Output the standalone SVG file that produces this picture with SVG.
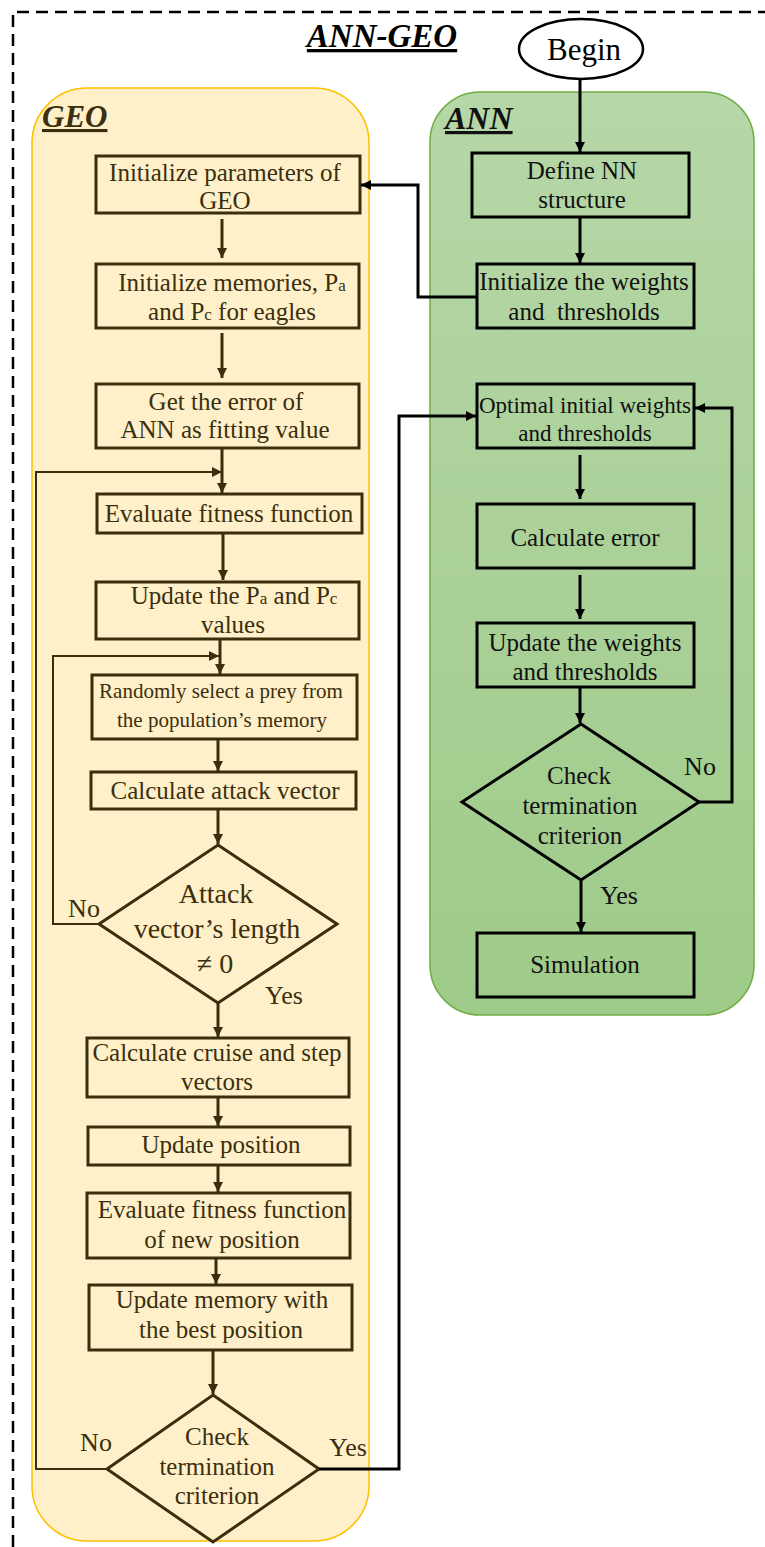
<svg xmlns="http://www.w3.org/2000/svg" width="765" height="1547" viewBox="0 0 765 1547">
<style>
  .t { font-family: "Liberation Serif", "Times New Roman", serif; text-anchor: middle; }
  .g { fill: #3A2F0E; }
  .a { fill: #111; }
  .s25 { font-size: 25px; }
  .s21 { font-size: 21px; }
  .s23 { font-size: 23px; }
  .s28 { font-size: 28px; }
  .lb { font-size: 26px; }
  .gb { fill: none; stroke: #3A2E0C; stroke-width: 3; }
  .ab { fill: none; stroke: #000; stroke-width: 3; }
  .gc { fill: none; stroke: #3A2E0C; stroke-width: 3; }
  .gl { fill: none; stroke: #3A2E0C; stroke-width: 2; }
  .ac { fill: none; stroke: #000; stroke-width: 3; }
  .hd { font-family: "Liberation Serif", "Times New Roman", serif; font-weight: bold; font-style: italic; text-decoration: underline; }
  .sub { font-size: 17px; }
</style>
<defs>
  <marker id="mb" viewBox="0 0 10 10" refX="10" refY="5" markerWidth="11" markerHeight="10" markerUnits="userSpaceOnUse" orient="auto">
    <path d="M0,0 L10,5 L0,10 z" fill="#3A2E0C"/>
  </marker>
  <marker id="mk" viewBox="0 0 10 10" refX="10" refY="5" markerWidth="11" markerHeight="10" markerUnits="userSpaceOnUse" orient="auto">
    <path d="M0,0 L10,5 L0,10 z" fill="#000"/>
  </marker>
  <linearGradient id="gr" x1="0" y1="0" x2="0" y2="1">
    <stop offset="0" stop-color="#B6D7A8"/>
    <stop offset="1" stop-color="#9FCB89"/>
  </linearGradient>
</defs>

<rect width="765" height="1547" fill="#fff"/>

<g id="frame">
  <path d="M13,1547 V12 H765" fill="none" stroke="#000" stroke-width="2.5" stroke-dasharray="12,7"/>
  <text class="hd" x="382" y="47" font-size="33" text-anchor="middle" fill="#000">ANN-GEO</text>
</g>

<g id="geo-container">
  <rect x="32" y="88" width="337" height="1453" rx="55" ry="55" fill="#FFF0C9" stroke="#FFC000" stroke-width="1.5"/>
  <text class="hd" x="42" y="127" font-size="31" fill="#3A2F0E">GEO</text>
</g>

<g id="ann-container">
  <rect x="430" y="92" width="324" height="923" rx="50" ry="50" fill="url(#gr)" stroke="#70AD47" stroke-width="1.5"/>
  <text class="hd" x="445" y="129" font-size="32" fill="#111">ANN</text>
</g>

<g id="begin">
  <ellipse cx="581" cy="49" rx="62" ry="30" fill="#fff" stroke="#000" stroke-width="2.5"/>
  <text class="t" x="584" y="60" font-size="31" fill="#000">Begin</text>
</g>

<!-- GEO nodes -->
<g id="geo-init-params">
  <rect class="gb" x="96" y="156" width="264" height="57"/>
  <text class="t g s25" x="225" y="181">Initialize parameters of</text>
  <text class="t g s25" x="225" y="209">GEO</text>
</g>
<g id="geo-init-memories">
  <rect class="gb" x="96" y="264" width="263" height="64"/>
  <text class="t g s25" x="232" y="291">Initialize memories, P<tspan class="sub">a</tspan></text>
  <text class="t g s25" x="232" y="320">and P<tspan class="sub">c</tspan> for eagles</text>
</g>
<g id="geo-get-error">
  <rect class="gb" x="96" y="384" width="263" height="64"/>
  <text class="t g s25" x="226" y="410">Get the error of</text>
  <text class="t g s25" x="225" y="438">ANN as fitting value</text>
</g>
<g id="geo-eval-fitness">
  <rect class="gb" x="97" y="494" width="265" height="39"/>
  <text class="t g s25" x="229" y="522">Evaluate fitness function</text>
</g>
<g id="geo-update-pa-pc">
  <rect class="gb" x="96" y="582" width="263" height="57"/>
  <text class="t g s25" x="234" y="604">Update the P<tspan class="sub">a</tspan> and P<tspan class="sub">c</tspan></text>
  <text class="t g s25" x="233" y="633">values</text>
</g>
<g id="geo-random-prey">
  <rect class="gb" x="92" y="675" width="265" height="64"/>
  <text class="t g s21" x="221" y="698">Randomly select a prey from</text>
  <text class="t g s21" x="222" y="727">the population’s memory</text>
</g>
<g id="geo-attack-vector">
  <rect class="gb" x="91" y="772" width="265" height="37"/>
  <text class="t g s25" x="225" y="799">Calculate attack vector</text>
</g>
<g id="geo-attack-decision">
  <polygon class="gb" points="218,845 337,924 218,1003 99,924"/>
  <text class="t g s28" x="216" y="903">Attack</text>
  <text class="t g s28" x="217" y="938">vector’s length</text>
  <text class="t g s28" x="215" y="973">≠ 0</text>
</g>
<g id="geo-cruise-step">
  <rect class="gb" x="87" y="1038" width="262" height="59"/>
  <text class="t g s25" x="217" y="1061">Calculate cruise and step</text>
  <text class="t g s25" x="217" y="1090">vectors</text>
</g>
<g id="geo-update-position">
  <rect class="gb" x="88" y="1127" width="262" height="38"/>
  <text class="t g s25" x="221" y="1153">Update position</text>
</g>
<g id="geo-eval-new">
  <rect class="gb" x="87" y="1193" width="263" height="65"/>
  <text class="t g s25" x="222" y="1218">Evaluate fitness function</text>
  <text class="t g s25" x="222" y="1248">of new position</text>
</g>
<g id="geo-update-memory">
  <rect class="gb" x="89" y="1285" width="263" height="65"/>
  <text class="t g s25" x="222" y="1308">Update memory with</text>
  <text class="t g s25" x="221" y="1338">the best position</text>
</g>
<g id="geo-termination">
  <polygon class="gb" points="213,1395 319,1469 213,1542 107,1469"/>
  <text class="t g s25" x="217" y="1445">Check</text>
  <text class="t g s25" x="217" y="1475">termination</text>
  <text class="t g s25" x="217" y="1504">criterion</text>
</g>

<!-- ANN nodes -->
<g id="ann-define">
  <rect class="ab" x="472" y="153" width="217" height="64"/>
  <text class="t a s25" x="582" y="179">Define NN</text>
  <text class="t a s25" x="582" y="208">structure</text>
</g>
<g id="ann-init-weights">
  <rect class="ab" x="477" y="264" width="217" height="64"/>
  <text class="t a s25" x="584" y="290">Initialize the weights</text>
  <text class="t a s25" x="584" y="320" xml:space="preserve">and  thresholds</text>
</g>
<g id="ann-optimal">
  <rect class="ab" x="477" y="384" width="217" height="64"/>
  <text class="t a s23" x="585" y="413">Optimal initial weights</text>
  <text class="t a s23" x="585" y="441">and thresholds</text>
</g>
<g id="ann-calc-error">
  <rect class="ab" x="477" y="504" width="217" height="64"/>
  <text class="t a s25" x="585" y="546">Calculate error</text>
</g>
<g id="ann-update-weights">
  <rect class="ab" x="477" y="623" width="217" height="64"/>
  <text class="t a s25" x="585" y="651">Update the weights</text>
  <text class="t a s25" x="585" y="680">and thresholds</text>
</g>
<g id="ann-termination">
  <polygon class="ab" points="581,724 699,802 581,880 462,802"/>
  <text class="t a s25" x="579" y="784">Check</text>
  <text class="t a s25" x="580" y="814">termination</text>
  <text class="t a s25" x="580" y="844">criterion</text>
</g>
<g id="ann-simulation">
  <rect class="ab" x="477" y="933" width="217" height="64"/>
  <text class="t a s25" x="585" y="973">Simulation</text>
</g>

<!-- Connectors -->
<g id="connectors">
  <path class="gc" d="M222,219 V258" marker-end="url(#mb)"/>
  <path class="gc" d="M222,333 V378" marker-end="url(#mb)"/>
  <path class="gc" d="M222,448 V493" marker-end="url(#mb)"/>
  <path class="gc" d="M223,533 V580" marker-end="url(#mb)"/>
  <path class="gc" d="M220,639 V674" marker-end="url(#mb)"/>
  <path class="gc" d="M218,739 V771" marker-end="url(#mb)"/>
  <path class="gc" d="M218,809 V844" marker-end="url(#mb)"/>
  <path class="gc" d="M218,1003 V1037" marker-end="url(#mb)"/>
  <path class="gc" d="M218,1097 V1126" marker-end="url(#mb)"/>
  <path class="gc" d="M218,1165 V1192" marker-end="url(#mb)"/>
  <path class="gc" d="M216,1258 V1284" marker-end="url(#mb)"/>
  <path class="gc" d="M213,1350 V1394" marker-end="url(#mb)"/>
  <path class="gl" d="M107,1469 H36 V472 H222" marker-end="url(#mb)"/>
  <path class="gl" d="M99,924 H53 V656 H219" marker-end="url(#mb)"/>

  <path class="ac" d="M580,80 V152" marker-end="url(#mk)"/>
  <path class="ac" d="M580,217 V263" marker-end="url(#mk)"/>
  <path class="ac" d="M477,297 H418 V185 H361" marker-end="url(#mk)"/>
  <path class="ac" d="M580,455 V499" marker-end="url(#mk)"/>
  <path class="ac" d="M580,575 V619" marker-end="url(#mk)"/>
  <path class="ac" d="M580,687 V723" marker-end="url(#mk)"/>
  <path class="ac" d="M699,802 H732 V408 H695" marker-end="url(#mk)"/>
  <path class="ac" d="M581,880 V932" marker-end="url(#mk)"/>
  <path class="ac" d="M319,1469 H399 V416 H476" marker-end="url(#mk)"/>

  <text class="t g lb" x="84" y="917">No</text>
  <text class="t g lb" x="284" y="1004">Yes</text>
  <text class="t g lb" x="96" y="1451">No</text>
  <text class="t g lb" x="348" y="1456">Yes</text>
  <text class="t a lb" x="700" y="775">No</text>
  <text class="t a lb" x="619" y="904">Yes</text>
</g>
</svg>
